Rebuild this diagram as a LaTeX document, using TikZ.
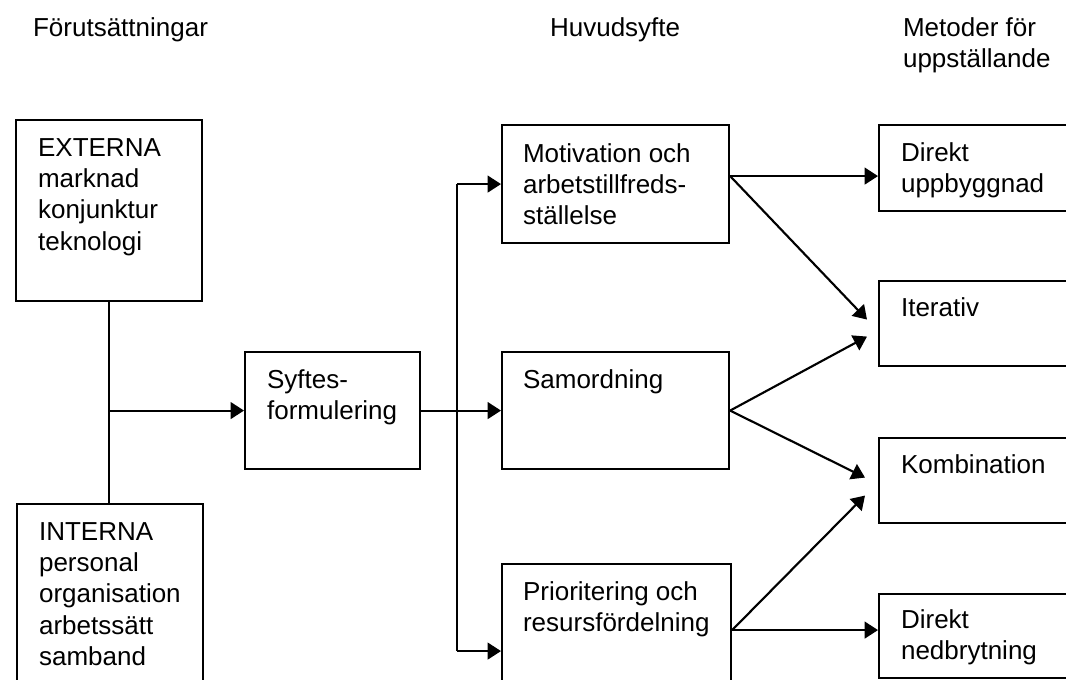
\documentclass[tikz,border=0pt]{standalone}
\usepackage{fontspec}
\setmainfont{Liberation Sans}
\usetikzlibrary{arrows.meta}
\newcommand{\rader}[1]{\begin{tabular}[t]{@{}l@{}}#1\end{tabular}}

\begin{document}
\begin{tikzpicture}[x=0.75pt,y=-0.75pt,line width=1.6pt,>={Triangle[length=10pt,width=12.5pt]}]
\tikzstyle{box}=[draw, rectangle, anchor=north west, inner sep=0pt]
\tikzstyle{txt}=[anchor=base west, inner sep=0pt, font=\fontsize{19.5}{23.6}\selectfont]
\tikzstyle{wide}=[box, minimum width=170.25pt, minimum height=87.75pt]
\tikzstyle{meth}=[box, minimum width=187.5pt, minimum height=63.75pt]

\path[use as bounding box, clip] (0,0) rectangle (1066,679);

% rubriker
\node (forut) [txt] at (32,36) {Förutsättningar};
\node (huvud) [txt] at (549,36) {Huvudsyfte};
\node (metod) [txt] at (902,36) {\rader{Metoder för\\uppställande}};

% förutsättningar
\node (ext) [box, minimum width=139.5pt, minimum height=135.75pt] at (15,119) {};
\node (extT) [txt] at ([shift={(22,37)}]ext.north west) {\rader{EXTERNA\\marknad\\konjunktur\\teknologi}};
\node (int) [box, minimum width=139.5pt, minimum height=187.5pt] at (16,503) {};
\node (intT) [txt] at ([shift={(22,37)}]int.north west) {\rader{INTERNA\\personal\\organisation\\arbetssätt\\samband}};

\node (syfte) [box, minimum width=131.25pt, minimum height=87.75pt] at (244,351) {};
\node (syfteT) [txt] at ([shift={(22,37)}]syfte.north west) {\rader{Syftes-\\formulering}};

% huvudsyfte
\node (motiv) [wide, minimum height=88.5pt] at (501,124) {};
\node (motivT) [txt] at ([shift={(21,38)}]motiv.north west) {\rader{Motivation och\\arbetstillfreds-\\ställelse}};
\node (samord) [wide] at (501,351) {};
\node (samordT) [txt] at ([shift={(21,37)}]samord.north west) {Samordning};
\node (prio) [wide, minimum width=171.75pt, minimum height=130.5pt] at (501,563) {};
\node (prioT) [txt] at ([shift={(21,37)}]prio.north west) {\rader{Prioritering och\\resursfördelning}};

% metoder
\node (direkt) [meth, minimum height=64.5pt] at (878,124) {};
\node (direktT) [txt] at ([shift={(22,37)}]direkt.north west) {\rader{Direkt\\uppbyggnad}};
\node (iter) [meth] at (878,280) {};
\node (iterT) [txt] at ([shift={(22,36)}]iter.north west) {Iterativ};
\node (komb) [meth] at (878,437) {};
\node (kombT) [txt] at ([shift={(22,36)}]komb.north west) {Kombination};
\node (nedbr) [meth, minimum height=63pt] at (878,593) {};
\node (nedbrT) [txt] at ([shift={(22,35)}]nedbr.north west) {\rader{Direkt\\nedbrytning}};

% förbindelser
\draw (ext.south) -- (ext.south |- int.north);
\coordinate (join) at (ext.south |- syfte.west);
\draw [->] (join) -- (syfte.west);
\draw [->] (syfte.east) -- (samord.west);
\path (syfte.east)+(36,0) coordinate (fork);
\draw (fork |- motiv.west) -- (fork |- prio.west);
\draw [->] (fork |- motiv.west) -- (motiv.west);
\draw [->] (fork |- prio.west) -- (prio.west);

\path (motiv.east)+(0,-8) coordinate (mo);
\draw [->] (mo) -- (mo -| direkt.west);
\draw [->] (mo) -- ([shift={(-11,-4)}]iter.west);
\draw [->] (samord.east) -- ([shift={(-11,13)}]iter.west);
\draw [->] (samord.east) -- ([shift={(-13,-3)}]komb.west);
\path (prio.east)+(0,-21) coordinate (po);
\draw [->] (po) -- ([shift={(-13,15)}]komb.west);
\draw [->] (po) -- (po -| nedbr.west);
\end{tikzpicture}
\end{document}
